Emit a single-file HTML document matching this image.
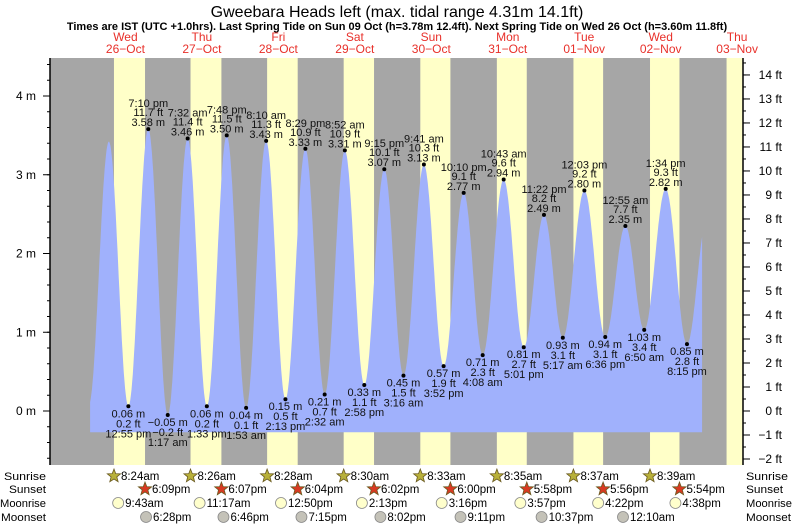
<!DOCTYPE html>
<html><head><meta charset="utf-8"><style>
html,body{margin:0;padding:0;background:#fff;}
svg{display:block;font-family:"Liberation Sans",sans-serif;}
</style></head><body>
<svg id="chart" width="793" height="525" viewBox="0 0 793 525" xmlns="http://www.w3.org/2000/svg">
<text x="397" y="17" text-anchor="middle" font-size="16" fill="#000">Gweebara Heads left (max. tidal range 4.31m 14.1ft)</text>
<text x="397" y="30" text-anchor="middle" font-size="11" font-weight="bold" fill="#000">Times are IST (UTC +1.0hrs). Last Spring Tide on Sun 09 Oct (h=3.78m 12.4ft). Next Spring Tide on Wed 26 Oct (h=3.60m 11.8ft)</text>
<g id="bg"></g>
<g id="water"></g>
<g id="labels"></g>
<g id="axes"></g>
<g id="days"></g>
<g id="astro"></g>
</svg>
<script>
// ---- data ----
const dayNames = ["Wed","Thu","Fri","Sat","Sun","Mon","Tue","Wed","Thu"];
const dayDates = ["26-Oct","27-Oct","28-Oct","29-Oct","30-Oct","31-Oct","01-Nov","02-Nov","03-Nov"];
// tide extremes: hours since Wed 26-Oct 00:00, height (m)
const tideHours = [0.5,6.8,12.92,19.17,25.28,31.53,37.55,43.8,49.88,56.17,62.22,68.48,74.53,80.87,86.97,93.25,99.27,105.68,111.87,118.17,124.13,130.72,137.02,143.37,149.28,156.05,162.6,168.92,174.83,181.57,188.25,194.6];
const tideHeights = [0.08,3.42,0.06,3.58,-0.05,3.46,0.06,3.50,0.04,3.43,0.15,3.33,0.21,3.31,0.33,3.07,0.45,3.13,0.57,2.77,0.71,2.94,0.81,2.49,0.93,2.80,0.94,2.35,1.03,2.82,0.85,2.45];
const tideFeet = ["","","0.2","11.7","-0.2","11.4","0.2","11.5","0.1","11.3","0.5","10.9","0.7","10.9","1.1","10.1","1.5","10.3","1.9","9.1","2.3","9.6","2.7","8.2","3.1","9.2","3.1","7.7","3.4","9.3","2.8",""];
const tideTimes = ["","","12:55 pm","7:10 pm","1:17 am","7:32 am","1:33 pm","7:48 pm","1:53 am","8:10 am","2:13 pm","8:29 pm","2:32 am","8:52 am","2:58 pm","9:15 pm","3:16 am","9:41 am","3:52 pm","10:10 pm","4:08 am","10:43 am","5:01 pm","11:22 pm","5:17 am","12:03 pm","6:36 pm","12:55 am","6:50 am","1:34 pm","8:15 pm",""];
const sunriseHours = [8.40,8.43,8.47,8.50,8.55,8.58,8.62,8.65,8.68];
const sunriseText = ["8:24am","8:26am","8:28am","8:30am","8:33am","8:35am","8:37am","8:39am"];
const sunsetHours = [18.15,18.12,18.07,18.03,18.0,17.97,17.93,17.9];
const sunsetText = ["6:09pm","6:07pm","6:04pm","6:02pm","6:00pm","5:58pm","5:56pm","5:54pm"];
const moonriseHours = [9.72,11.28,12.83,14.22,15.27,15.95,16.37,16.63];
const moonriseText = ["9:43am","11:17am","12:50pm","2:13pm","3:16pm","3:57pm","4:22pm","4:38pm"];
const moonsetAbsHours = [18.47,42.77,67.25,92.03,117.18,142.62,168.17];
const moonsetText = ["6:28pm","6:46pm","7:15pm","8:02pm","9:11pm","10:37pm","12:10am"];
const mTicks = [0,1,2,3,4];
const ftTicks = [-2,-1,0,1,2,3,4,5,6,7,8,9,10,11,12,13,14];

// ---- scales ----
const NS="http://www.w3.org/2000/svg";
const L=50,R=743,T=58,B=465,X0=87.2,PXH=3.186;
const x=h=>X0+h*PXH;
const y=m=>411-m*78.75;
const yft=f=>y(f*0.3048);
function mk(tag,attrs,parent,txt){const e=document.createElementNS(NS,tag);for(const k in attrs)e.setAttribute(k,attrs[k]);if(txt!==undefined)e.textContent=txt;parent.appendChild(e);return e;}
const bg=document.getElementById('bg'),water=document.getElementById('water'),labels=document.getElementById('labels'),axes=document.getElementById('axes'),days=document.getElementById('days'),astro=document.getElementById('astro');

// background
let r=mk('rect',{x:L,y:T,width:R-L,height:B-T,fill:'#a6a6a6'},bg);


for(let d=0;d<sunriseHours.length;d++){
  const s=sunsetHours[d]!==undefined?sunsetHours[d]:18;
  const x1=Math.max(L,x(d*24+sunriseHours[d])),x2=Math.min(R,x(d*24+s));
  if(x2<=x1)continue;
  const b=mk('rect',{x:x1,y:T,width:x2-x1,height:B-T,fill:'#ffffc8'},bg);
  
  
}

// water curve
function hAt(t){
  for(let i=0;i<tideHours.length-1;i++){
    if(t>=tideHours[i]&&t<=tideHours[i+1]){
      const f=(t-tideHours[i])/(tideHours[i+1]-tideHours[i]);
      return tideHeights[i]+(tideHeights[i+1]-tideHeights[i])*(1-Math.cos(Math.PI*f))/2;
    }
  }
  return tideHeights[tideHeights.length-1];
}
const tStart=0.9,tEnd=193,base=y(-0.27);
let pts=[[x(tStart),base]];
for(let t=tStart;t<=tEnd;t+=0.2)pts.push([x(t),y(hAt(t))]);
pts.push([x(tEnd),y(hAt(tEnd))],[x(tEnd),base]);
const poly=mk('polygon',{points:pts.map(p=>p[0].toFixed(1)+','+p[1].toFixed(1)).join(' '),fill:'#a0b1fc'},water);



// labels
for(let i=0;i<tideHours.length;i++){
  if(!tideTimes[i])continue;
  const px=x(tideHours[i]),py=y(tideHeights[i]);
  const high=i%2===1;
  const g=mk('g',{'font-size':'11',fill:'#111','text-anchor':'middle'},labels);
  
  
  const dot=mk('circle',{cx:px,cy:py,r:2,fill:'#000'},g);
  
  
  const mtxt=tideHeights[i].toFixed(2).replace('-','\u2212')+' m';
  const ft=tideFeet[i].replace('-','\u2212')+' ft';
  if(high){
    mk('text',{x:px,y:py-3},g,mtxt);
    mk('text',{x:px,y:py-13},g,ft);
    mk('text',{x:px,y:py-22},g,tideTimes[i]);
  } else {
    mk('text',{x:px,y:py+11},g,mtxt);
    mk('text',{x:px,y:py+21},g,ft);
    mk('text',{x:px,y:py+31},g,tideTimes[i]);
  }
}

// axes
let a=mk('line',{x1:L,y1:T,x2:L,y2:B,stroke:'#000','stroke-width':1.5},axes);


a=mk('line',{x1:R,y1:T,x2:R,y2:B,stroke:'#000','stroke-width':1.5},axes);


for(let v=-0.6;v<=5;v+=0.2){const yy=y(v);if(yy<T||yy>B)continue;mk('line',{x1:L-3,y1:yy,x2:L,y2:yy,stroke:'#000'},axes);}
mTicks.forEach(v=>{
  mk('line',{x1:L-7,y1:y(v),x2:L,y2:y(v),stroke:'#000'},axes);
  const t=mk('text',{x:L-14,y:y(v)+4,'text-anchor':'end','font-size':12},axes,v+' m');
  
  
});
for(let v=-2.5;v<=15;v+=0.5){const yy=yft(v);if(yy<T||yy>B)continue;mk('line',{x1:R,y1:yy,x2:R+3,y2:yy,stroke:'#000'},axes);}
ftTicks.forEach(v=>{
  mk('line',{x1:R,y1:yft(v),x2:R+7,y2:yft(v),stroke:'#000'},axes);
  const t=mk('text',{x:R+39,y:yft(v)+4,'text-anchor':'end','font-size':12},axes,String(v).replace('-','\u2212')+' ft');
  
  
});

// day labels
dayNames.forEach((n,d)=>{
  const cx=x(d*24+12);
  const g=mk('g',{fill:'#e8302a','text-anchor':'middle','font-size':12},days);
  
  
  mk('text',{x:cx,y:41},g,n);
  mk('text',{x:cx,y:53},g,dayDates[d].replace('-','\u2212'));
});

// astro rows
const rows=[["Sunrise",480,42],["Sunset",493,37],["Moonrise",507,46],["Moonset",521,45]];
rows.forEach(rw=>{
  let t=mk('text',{x:46-rw[2],y:rw[1],'font-size':11,textLength:rw[2],lengthAdjust:'spacingAndGlyphs'},astro,rw[0]);
  
  
  t=mk('text',{x:746,y:rw[1],'font-size':11,textLength:rw[2],lengthAdjust:'spacingAndGlyphs'},astro,rw[0]);
  
  
});
function star(cx,cy,fill){
  let p=[];for(let k=0;k<10;k++){const rr=k%2?3:7,an=-Math.PI/2+k*Math.PI/5;p.push((cx+rr*Math.cos(an)).toFixed(1)+','+(cy+rr*Math.sin(an)).toFixed(1));}
  return mk('polygon',{points:p.join(' '),fill:fill,stroke:'#6a5a20','stroke-width':0.8},astro);
}
function entry(h,txt,rowY,kind){
  const cx=x(h),cy=rowY-4;
  let ic;
  if(kind==='sunrise')ic=star(cx,cy,'#b8b03a');
  else if(kind==='sunset')ic=star(cx,cy,'#d83a22');
  else ic=mk('circle',{cx:cx,cy:cy,r:5.5,fill:kind==='moonrise'?'#ffffcc':'#c4c2b8',stroke:'#888','stroke-width':0.8},astro);
  
  
  const t=mk('text',{x:cx+7,y:rowY,'font-size':11.5},astro,txt);
  
  
}
sunriseText.forEach((s,d)=>entry(d*24+sunriseHours[d],s,480,'sunrise'));
sunsetText.forEach((s,d)=>entry(d*24+sunsetHours[d],s,493,'sunset'));
moonriseText.forEach((s,d)=>entry(d*24+moonriseHours[d],s,507,'moonrise'));
moonsetText.forEach((s,d)=>entry(moonsetAbsHours[d],s,521,'moonset'));
</script>
</body></html>
